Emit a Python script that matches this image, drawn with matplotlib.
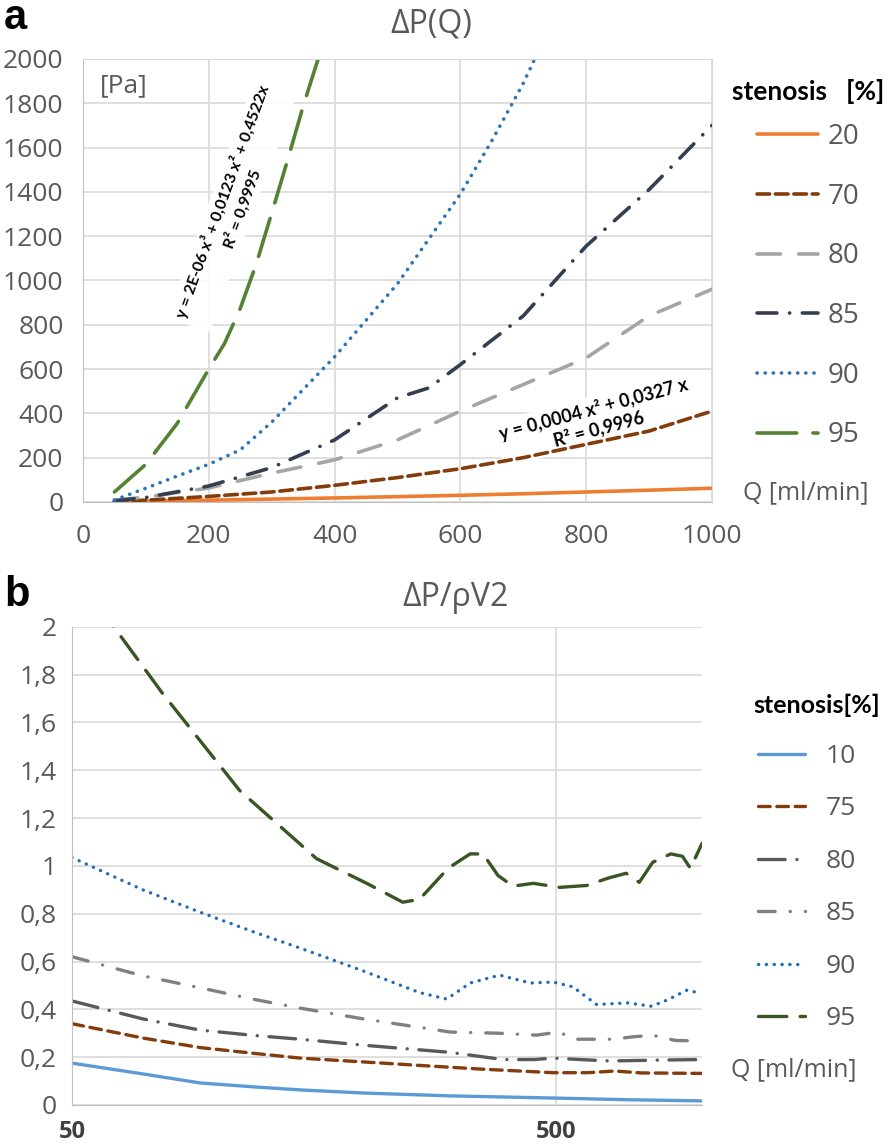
import matplotlib.pyplot as plt

plt.rcParams['font.family'] = ['Open Sans', 'DejaVu Sans']

# panel a: pressure drop vs flow
q_a = [50, 100, 200, 300, 400, 500, 600, 700, 800, 900, 1000]
p20 = [2, 4, 8, 13, 18, 24, 30, 37, 45, 53, 62]
p70 = [3, 8, 25, 45, 75, 110, 150, 200, 260, 320, 410]
p80 = [8, 22, 63, 130, 190, 280, 410, 530, 650, 840, 960]
q85 = [50, 100, 200, 300, 400, 500, 550, 600, 700, 800, 900, 1000]
p85 = [5, 20, 72, 155, 280, 470, 515, 620, 840, 1155, 1410, 1700]
q90 = [50, 100, 150, 200, 250, 300, 400, 500, 600, 650, 700, 720]
p90 = [9, 62, 117, 170, 235, 360, 655, 985, 1390, 1630, 1890, 2010]
q95 = [50, 100, 150, 200, 225, 250, 275, 300, 325, 350, 375]
p95 = [45, 170, 355, 600, 715, 873, 1070, 1303, 1540, 1786, 2010]

# panel b: dP / rho V^2
q10b = [50, 70, 92, 120, 148, 200, 302, 493, 700, 1000]
v10b = [0.175, 0.13, 0.092, 0.075, 0.063, 0.05, 0.038, 0.029, 0.022, 0.017]
q75b = [50, 70, 92, 120, 148, 200, 263, 350, 493, 580, 660, 750, 1000]
v75b = [0.34, 0.28, 0.24, 0.215, 0.196, 0.18, 0.165, 0.15, 0.135, 0.135, 0.142, 0.134, 0.132]
q80b = [50, 70, 92, 120, 148, 200, 302, 388, 450, 493, 560, 645, 830, 1000]
v80b = [0.435, 0.36, 0.313, 0.29, 0.275, 0.25, 0.22, 0.19, 0.19, 0.196, 0.19, 0.184, 0.188, 0.19]
q85b = [50, 70, 92, 120, 148, 200, 302, 382, 455, 505, 550, 654, 720, 790, 880, 1000]
v85b = [0.62, 0.54, 0.49, 0.44, 0.405, 0.36, 0.305, 0.30, 0.292, 0.305, 0.275, 0.275, 0.285, 0.292, 0.27, 0.267]
q90b = [50, 70, 92, 120, 148, 200, 261, 297, 332, 382, 442, 493, 541, 606, 700, 787, 850, 930, 979]
v90b = [1.035, 0.9, 0.806, 0.72, 0.656, 0.56, 0.47, 0.443, 0.51, 0.543, 0.51, 0.514, 0.494, 0.42, 0.427, 0.413, 0.44, 0.48, 0.47]
q95b = [50, 61, 77, 111, 160, 203, 241, 261, 299, 332, 353, 379, 407, 448, 508, 578, 638, 697, 742, 791, 862, 911, 946, 977, 1000]
v95b = [2.24, 2.0, 1.72, 1.315, 1.03, 0.927, 0.848, 0.86, 0.99, 1.05, 1.05, 0.96, 0.915, 0.927, 0.91, 0.918, 0.948,
        0.969, 0.931, 1.015, 1.05, 1.04, 0.99, 1.05, 1.094]

yticks_b = [0, 0.2, 0.4, 0.6, 0.8, 1.0, 1.2, 1.4, 1.6, 1.8, 2.0]
ylabels_b = ['0', '0,2', '0,4', '0,6', '0,8', '1', '1,2', '1,4', '1,6', '1,8', '2']

tick_c = '#595959'
grid_c = '#d9d9d9'

fig = plt.figure(figsize=(8.95, 11.46), dpi=100)

# ---------------- panel a ----------------
ax1 = fig.add_axes([0.0927, 0.5620, 0.7028, 0.3866])
ax1.set_axisbelow(True)
lw = 2.6
ax1.plot(q_a, p20, color='#ed7d31', lw=lw, solid_capstyle='round', label='20')
ax1.plot(q_a, p70, color='#843c0c', lw=lw, dashes=(3.5, 1.6), dash_capstyle='round', label='70')
ax1.plot(q_a, p80, color='#a5a5a5', lw=lw, dashes=(6.5, 5), dash_capstyle='round', label='80')
ax1.plot(q85, p85, color='#333f50', lw=lw, dashes=(5.5, 3.5, 0.05, 3.5), dash_capstyle='round', label='85')
ax1.plot(q90, p90, color='#2e75b6', lw=lw, dashes=(0.05, 2.2), dash_capstyle='round', label='90')
ax1.plot(q95, p95, color='#548235', lw=lw, dashes=(11, 4.5), dash_capstyle='round', label='95')

ax1.set_xlim(0, 1000)
ax1.set_ylim(0, 2000)
ax1.set_xticks(range(0, 1001, 200))
ax1.set_yticks(range(0, 2001, 200))
ax1.grid(True, color=grid_c, lw=1.2)
ax1.tick_params(length=0, labelsize=19, labelcolor=tick_c)
ax1.tick_params(axis='y', pad=14)
ax1.tick_params(axis='x', pad=16)
for s in ax1.spines.values():
    s.set_color(grid_c)
ax1.spines['left'].set_color('#bfbfbf')
ax1.spines['bottom'].set_color('#bfbfbf')

ax1.text(27, 1880, '[Pa]', fontsize=19, color=tick_c, va='center')
ax1.text(237, 1340, 'y = 2E-06 x³ + 0,0123 x² + 0,4522x\nR² = 0,9995', rotation=70,
         ha='center', va='center', multialignment='center', fontsize=11.5, fontweight='bold',
         family=['Lato', 'DejaVu Sans'], zorder=1.5, linespacing=1.3,
         bbox=dict(facecolor='white', edgecolor='none', alpha=0.9, pad=3))
ax1.text(816, 375, 'y = 0,0004 x² + 0,0327 x\nR² = 0,9996', rotation=15,
         ha='center', va='center', multialignment='center', fontsize=13, fontweight='bold',
         family=['Lato', 'DejaVu Sans'], zorder=1.5, linespacing=1.2,
         bbox=dict(facecolor='white', edgecolor='none', alpha=0.9, pad=3))

fig.text(431 / 895, 1 - 24 / 1146, 'ΔP(Q)', fontsize=23, color=tick_c, ha='center', va='center')
fig.text(4 / 895, 1 - 29 / 1146, 'a', fontsize=30, fontweight='bold', family=['Liberation Sans', 'DejaVu Sans'])
fig.text(732 / 895, 1 - 92 / 1146, 'stenosis   [%]', fontsize=19, fontweight='bold',
         family=['Lato', 'DejaVu Sans'], va='center')
fig.text(743 / 895, 1 - 493 / 1146, 'Q [ml/min]', fontsize=18, color=tick_c, va='center')

h1, l1 = ax1.get_legend_handles_labels()
fig.legend(h1, l1, loc='upper left', bbox_to_anchor=(757 / 895, 1 - 123 / 1146), frameon=False,
           fontsize=20, labelcolor=tick_c, handlelength=2.2, handletextpad=0.36,
           labelspacing=1.14, borderpad=0, borderaxespad=0)

# ---------------- panel b ----------------
ax2 = fig.add_axes([0.0804, 0.0358, 0.7040, 0.4173])
ax2.set_axisbelow(True)
lw = 2.4
ax2.plot(q10b, v10b, color='#5b9bd5', lw=lw, solid_capstyle='round', label='10')
ax2.plot(q75b, v75b, color='#843c0c', lw=lw, dashes=(3.5, 2), dash_capstyle='round', label='75')
ax2.plot(q80b, v80b, color='#595959', lw=lw, dashes=(8, 3.5, 0.05, 3.5), dash_capstyle='round', label='80')
ax2.plot(q85b, v85b, color='#808080', lw=lw, dashes=(5, 4.5, 0.05, 4.5), dash_capstyle='round', label='85')
ax2.plot(q90b, v90b, color='#1f6bb5', lw=lw, dashes=(0.05, 2.3), dash_capstyle='round', label='90')
ax2.plot(q95b, v95b, color='#375623', lw=lw, dashes=(8.5, 4), dash_capstyle='round', label='95')

ax2.set_xscale('log')
ax2.set_xlim(50, 1000)
ax2.set_ylim(0, 2)
ax2.set_xticks([50, 500])
ax2.set_xticklabels(['50', '500'], fontweight='bold', fontsize=17, color='#404040')
ax2.minorticks_off()
ax2.set_yticks(yticks_b)
ax2.set_yticklabels(ylabels_b)
ax2.grid(True, color=grid_c, lw=1.2)
ax2.tick_params(length=0)
ax2.tick_params(axis='y', labelsize=19, labelcolor=tick_c, pad=11)
ax2.tick_params(axis='x', pad=11)
ax2.spines['top'].set_visible(False)
ax2.spines['right'].set_visible(False)
ax2.spines['left'].set_color('#bfbfbf')
ax2.spines['bottom'].set_color('#bfbfbf')

fig.text(456 / 895, 1 - 598 / 1146, 'ΔP/ρV2', fontsize=23, color=tick_c, ha='center', va='center')
fig.text(4 / 895, 1 - 606 / 1146, 'b', fontsize=30, fontweight='bold', family=['Liberation Sans', 'DejaVu Sans'])
fig.text(753 / 895, 1 - 705 / 1146, 'stenosis[%]', fontsize=18, fontweight='bold',
         family=['Lato', 'DejaVu Sans'], va='center')
fig.text(731 / 895, 1 - 1070 / 1146, 'Q [ml/min]', fontsize=18, color=tick_c, va='center')

h2, l2 = ax2.get_legend_handles_labels()
fig.legend(h2, l2, loc='upper left', bbox_to_anchor=(758 / 895, 1 - 744 / 1146), frameon=False,
           fontsize=19, labelcolor=tick_c, handlelength=1.8, handletextpad=0.75,
           labelspacing=1.04, borderpad=0, borderaxespad=0)

fig.savefig('out.png', dpi=100)
